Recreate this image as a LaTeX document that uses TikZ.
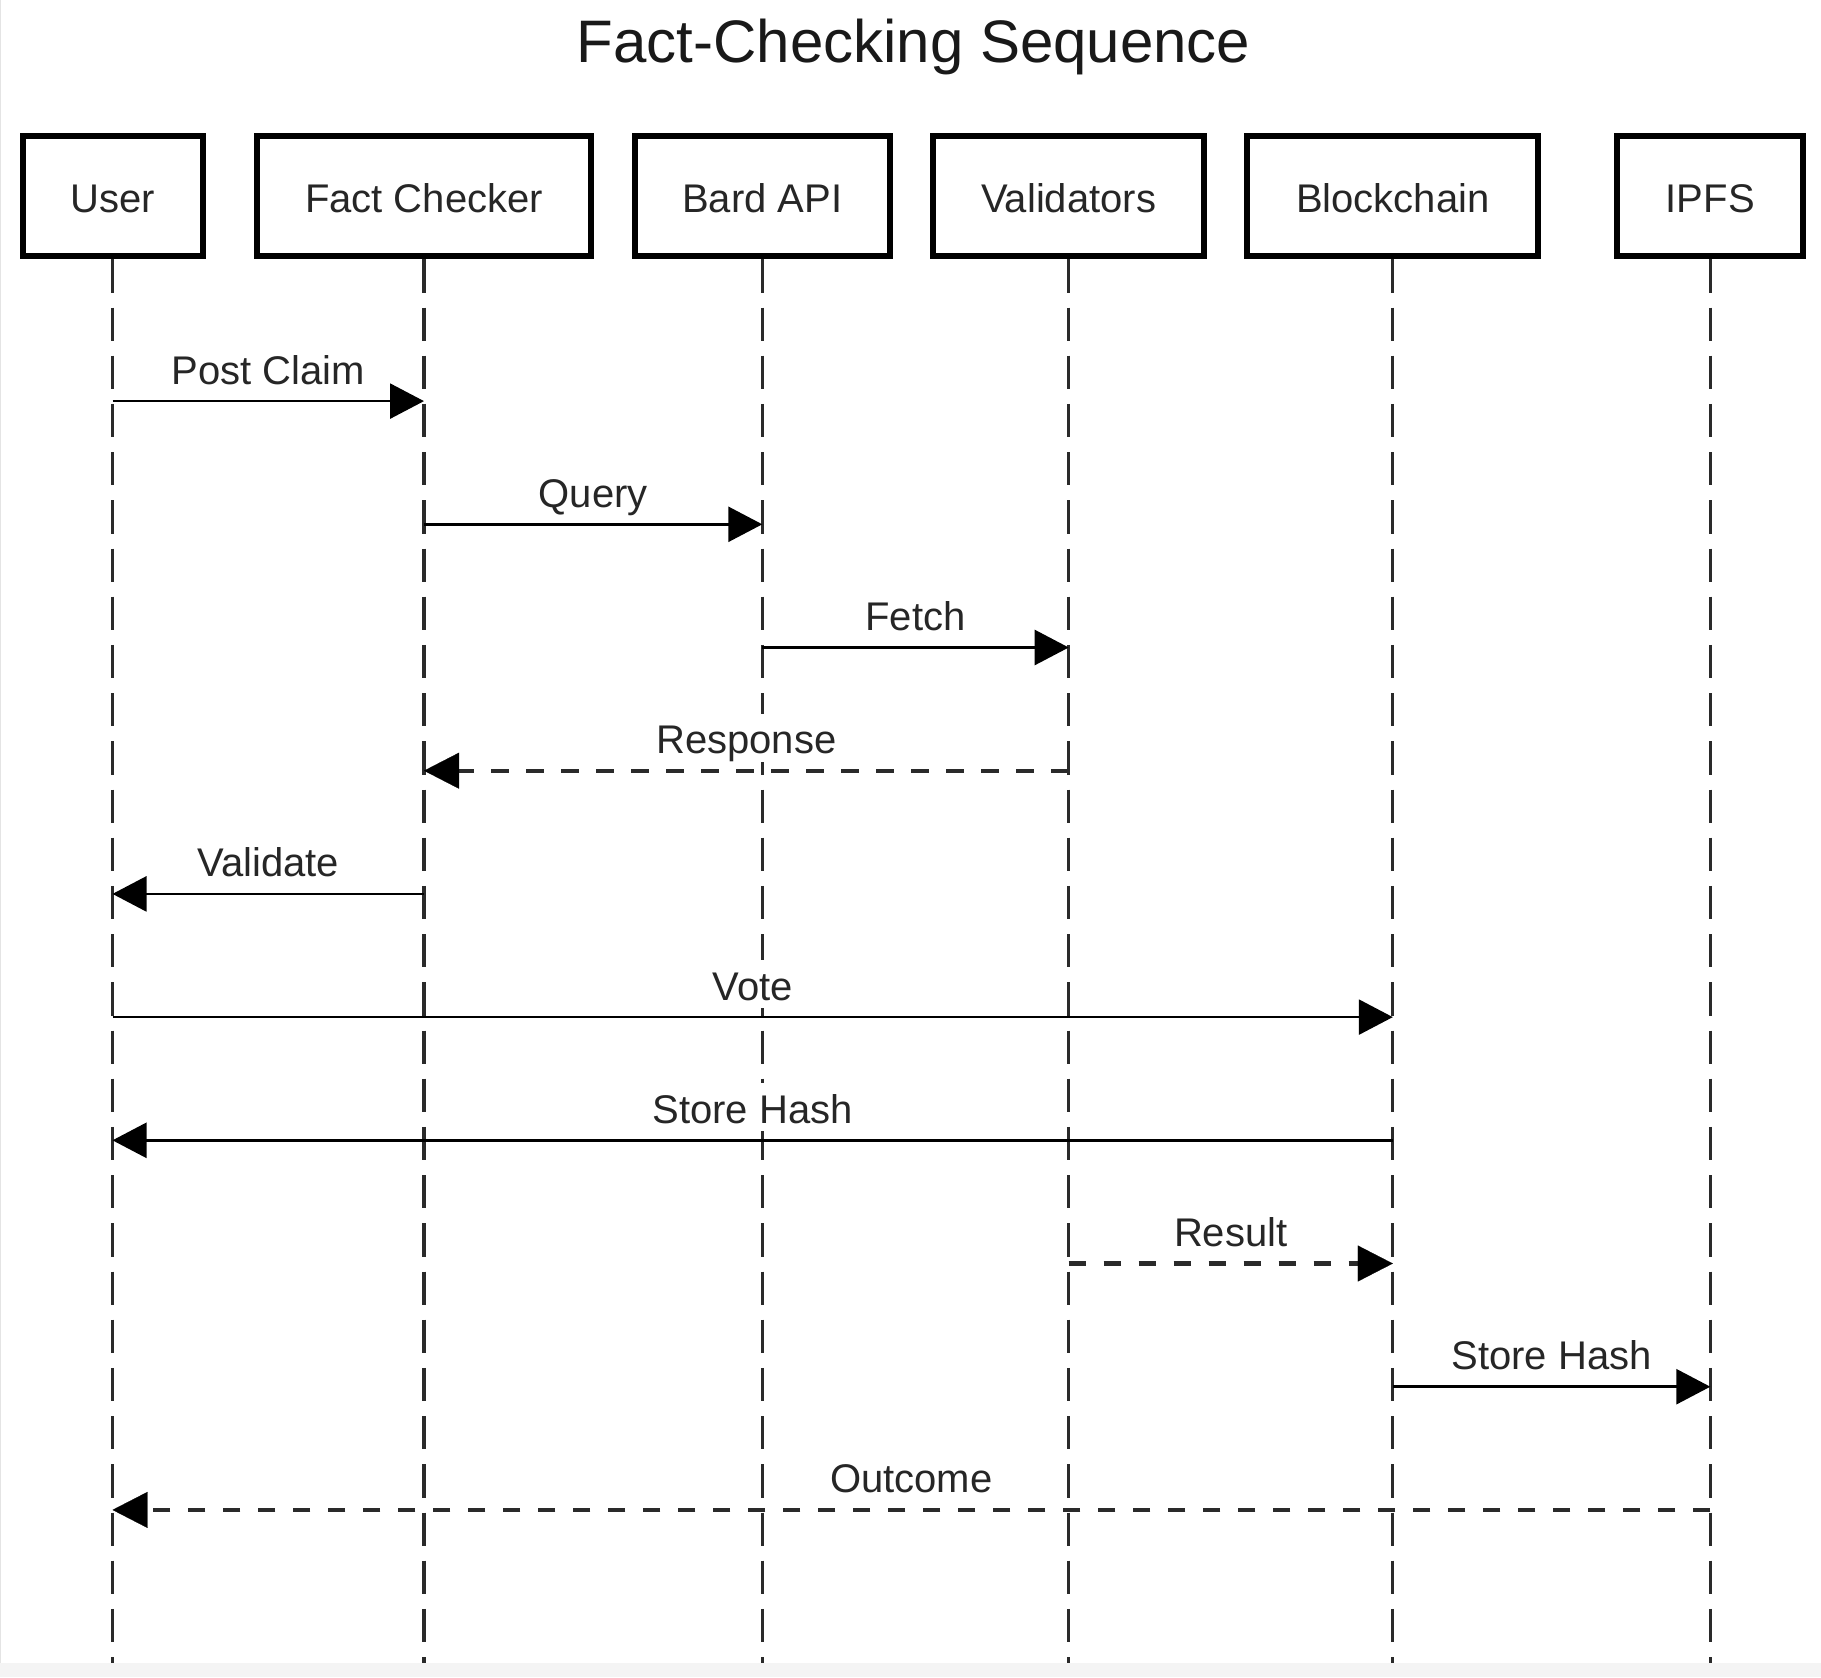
\documentclass[tikz,border=0pt]{standalone}
\usepackage{fontspec}
\setmainfont{Liberation Sans}
\usetikzlibrary{arrows.meta}
\definecolor{txt}{HTML}{262626}
\definecolor{stripgray}{HTML}{F4F4F4}
\definecolor{edgegray}{HTML}{E4E4E4}
\definecolor{dashcol}{HTML}{2A2A2A}
\newcommand{\lblfont}{\fontsize{20pt}{24pt}\selectfont}
\begin{document}
\begin{tikzpicture}[x=0.5pt,y=-0.5pt,
  actor/.style={draw=black,line width=3pt,fill=white,minimum height=60pt,
    inner sep=0pt,font=\lblfont,text=txt,text height=16.2pt,text depth=0pt},
  lifeline/.style={draw=dashcol,line width=1.6pt,dash pattern=on 16.6pt off 7.5pt},
  msg/.style={line width=1.3pt,-{Triangle[length=17pt,width=17.5pt]}},
  reply/.style={draw=dashcol,line width=2.1pt,dash pattern=on 8.7pt off 8.8pt,
    -{Triangle[length=17.5pt,width=18pt,line width=0.1pt,color=black,fill=black]}},
  msglabel/.style={anchor=base,fill=white,inner xsep=2pt,inner ysep=0pt,
    text height=20pt,text depth=4pt,font=\lblfont,text=txt,yshift=8.5pt}]
\useasboundingbox (0,0) rectangle (1821,1677);
\fill[white] (0,0) rectangle (1821,1677);

% title
\node[anchor=base,font=\fontsize{30pt}{36pt}\selectfont,text=black!90] (title) at (913.5,62.5) {Fact-Checking Sequence};

% participants
\node[actor,minimum width=90pt]   (user) at (112.5,196.3)  {User};
\node[actor,minimum width=167pt]  (fc)   at (424,196.3)    {Fact Checker};
\node[actor,minimum width=127.6pt](bard) at (762.3,196.3)  {Bard API};
\node[actor,minimum width=135.6pt](val)  at (1068.7,196.3) {Validators};
\node[actor,minimum width=145.5pt](bc)   at (1392.8,196.3) {Blockchain};
\node[actor,minimum width=93.1pt] (ipfs) at (1710.3,196.3) {IPFS};

% bottom of the lifelines and message rows
\coordinate (bottom) at (0,1663);
\coordinate (r1) at (0,401.1);
\coordinate (r2) at (0,524.3);
\coordinate (r3) at (0,647.5);
\coordinate (r4) at (0,770.7);
\coordinate (r5) at (0,893.9);
\coordinate (r6) at (0,1017.1);
\coordinate (r7) at (0,1140.3);
\coordinate (r8) at (0,1263.5);
\coordinate (r9) at (0,1386.7);
\coordinate (r10) at (0,1509.9);

% lifelines
\foreach \p in {user,fc,bard,val,bc,ipfs}{
  \draw[lifeline] (\p.south) -- (\p |- bottom);
}

% messages
\draw[msg]   (user |- r1) -- node[msglabel]{Post Claim} (fc |- r1);
\draw[msg]   (fc |- r2)   -- node[msglabel]{Query}      (bard |- r2);
\draw[msg]   (bard |- r3) -- node[msglabel]{Fetch}      (val |- r3);
\draw[reply] (val |- r4)  -- node[msglabel]{Response}   (fc |- r4);
\draw[msg]   (fc |- r5)   -- node[msglabel]{Validate}   (user |- r5);
\draw[msg]   (user |- r6) -- node[msglabel]{Vote}       (bc |- r6);
\draw[msg]   (bc |- r7)   -- node[msglabel]{Store Hash} (user |- r7);
\draw[reply] (val |- r8)  -- node[msglabel]{Result}     (bc |- r8);
\draw[msg]   (bc |- r9)   -- node[msglabel]{Store Hash} (ipfs |- r9);
\draw[reply] (ipfs |- r10) -- node[msglabel]{Outcome}   (user |- r10);

% page edge
\fill[stripgray] (0,1663) rectangle (1821,1677);
\fill[edgegray] (0,0) rectangle (1.2,1663);
\end{tikzpicture}
\end{document}
